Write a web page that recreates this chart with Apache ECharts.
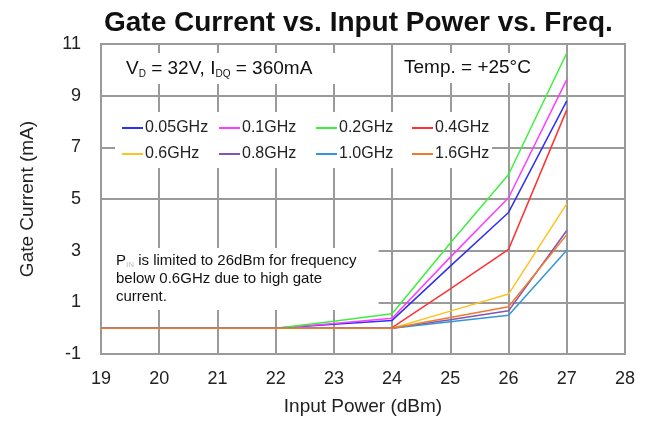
<!DOCTYPE html>
<html>
<head>
<meta charset="utf-8">
<script src="https://cdn.jsdelivr.net/npm/echarts@6/dist/echarts.min.js"></script>
<style>
  html, body { margin: 0; padding: 0; background: #fff; }
  #chart { width: 652px; height: 421px; }
</style>
</head>
<body>
<div id="chart"></div>
<script>
// input power steps (dBm)
var power = [19, 20, 21, 22, 23, 24, 25, 26, 27];

// gate current (mA) per frequency
var f005 = [0, 0, 0, 0, 0.15, 0.3, 2.4, 4.48, 8.8];
var f01  = [0, 0, 0, 0, 0.18, 0.38, 2.75, 5.05, 9.62];
var f02  = [0, 0, 0, 0, 0.27, 0.56, 3.3, 5.95, 10.65];
var f04  = [0, 0, 0, 0, 0, 0.02, 1.52, 3.05, 8.45];
var f06  = [0, 0, 0, 0, 0, 0, 0.66, 1.32, 4.82];
var f08  = [0, 0, 0, 0, 0, 0, 0.33, 0.67, 3.78];
var f10  = [0, 0, 0, 0, 0, 0, 0.25, 0.5, 3.02];
var f16  = [0, 0, 0, 0, 0, 0, 0.41, 0.83, 3.62];

var names  = ['0.05GHz', '0.1GHz', '0.2GHz', '0.4GHz', '0.6GHz', '0.8GHz', '1.0GHz', '1.6GHz'];
var values = [f005, f01, f02, f04, f06, f08, f10, f16];
var colors = ['#2f2ff5', '#ff3cff', '#3cf03c', '#ff3232', '#ffc21e', '#8455b0', '#3595dc', '#f07a2a'];

var yTicks = [-1, 11, 2];   // min, max, step
var xTicks = [19, 28, 1];

var font = 'Liberation Sans, Arial, sans-serif';

var chart = echarts.init(document.getElementById('chart'));

var series = names.map(function (n, i) {
    return {
        name: n,
        type: 'line',
        symbol: 'none',
        z: 3,
        lineStyle: { width: 1.5, color: colors[i] },
        itemStyle: { color: colors[i] },
        data: power.map(function (p, j) { return [p, values[i][j]]; })
    };
});

// legend: 4 columns of 2 rows (row 1 = first four names)
var legendCols = [122, 219, 316, 412];
var legends = legendCols.map(function (x, c) {
    return {
        orient: 'vertical',
        left: x, top: 120,
        padding: 0,
        itemWidth: 21, itemHeight: 2, itemGap: 10,
        icon: 'rect',
        textStyle: { fontFamily: font, fontSize: 16, color: '#222', padding: [0, 0, 0, -3] },
        data: [names[c], names[c + 4]]
    };
});

var option = {
    animation: false,
    backgroundColor: '#fff',
    title: {
        text: 'Gate Current vs. Input Power vs. Freq.',
        left: 99,
        top: 4,
        textStyle: { fontFamily: font, fontSize: 28, fontWeight: 'bold', color: '#111' }
    },
    grid: {
        left: 101, right: 27, top: 44, bottom: 66,
        show: true, borderColor: '#9a9a9a', borderWidth: 2
    },
    legend: legends,
    xAxis: {
        type: 'value',
        min: xTicks[0], max: xTicks[1], interval: xTicks[2],
        name: 'Input Power (dBm)',
        nameLocation: 'middle',
        nameGap: 43,
        nameTextStyle: { fontFamily: font, fontSize: 19, color: '#222' },
        axisLine: { show: false },
        axisTick: { show: false },
        axisLabel: { margin: 16, fontFamily: font, fontSize: 18, color: '#222' },
        splitLine: { show: true, lineStyle: { color: '#9a9a9a', width: 2 } }
    },
    yAxis: {
        type: 'value',
        min: yTicks[0], max: yTicks[1], interval: yTicks[2],
        name: 'Gate Current (mA)',
        nameLocation: 'middle',
        nameGap: 64,
        nameTextStyle: { fontFamily: font, fontSize: 19, color: '#222' },
        axisLine: { show: false },
        axisTick: { show: false },
        axisLabel: { margin: 20, fontFamily: font, fontSize: 18, color: '#222' },
        splitLine: { show: true, lineStyle: { color: '#9a9a9a', width: 2 } }
    },
    graphic: [
        {
            type: 'rect', left: 115, top: 112, z: 2,
            shape: { width: 377, height: 56 },
            style: { fill: '#fff' }
        },
        {
            type: 'text', left: 104, top: 53, z: 2,
            style: {
                text: '{n|V}{s|D}{n| = 32V, I}{s|DQ}{n| = 360mA}',
                backgroundColor: '#fff',
                padding: [5, 24, 5, 22],
                rich: {
                    n: { fontFamily: font, fontSize: 19, fill: '#111' },
                    s: { fontFamily: font, fontSize: 10, fill: '#111', padding: [11, 0, 0, 0] }
                }
            }
        },
        {
            type: 'text', left: 398, top: 53, z: 2,
            style: {
                text: 'Temp. = +25°C',
                font: '19px ' + font,
                fill: '#111',
                backgroundColor: '#fff',
                padding: [5, 8, 6, 6]
            }
        },
        {
            type: 'text', left: 102, top: 248, z: 2,
            style: {
                text: '{n|P}{s|IN}{n| is limited to 26dBm for frequency}\n{n|below 0.6GHz due to high gate}\n{n|current.}',
                backgroundColor: '#fff',
                padding: [4, 22, 4, 14],
                lineHeight: 18,
                rich: {
                    n: { fontFamily: font, fontSize: 15, fill: '#111', lineHeight: 18 },
                    s: { fontFamily: font, fontSize: 8, fill: '#bbb', lineHeight: 18, padding: [8, 0, 0, 0] }
                }
            }
        }
    ],
    series: series
};

chart.setOption(option);
</script>
</body>
</html>
